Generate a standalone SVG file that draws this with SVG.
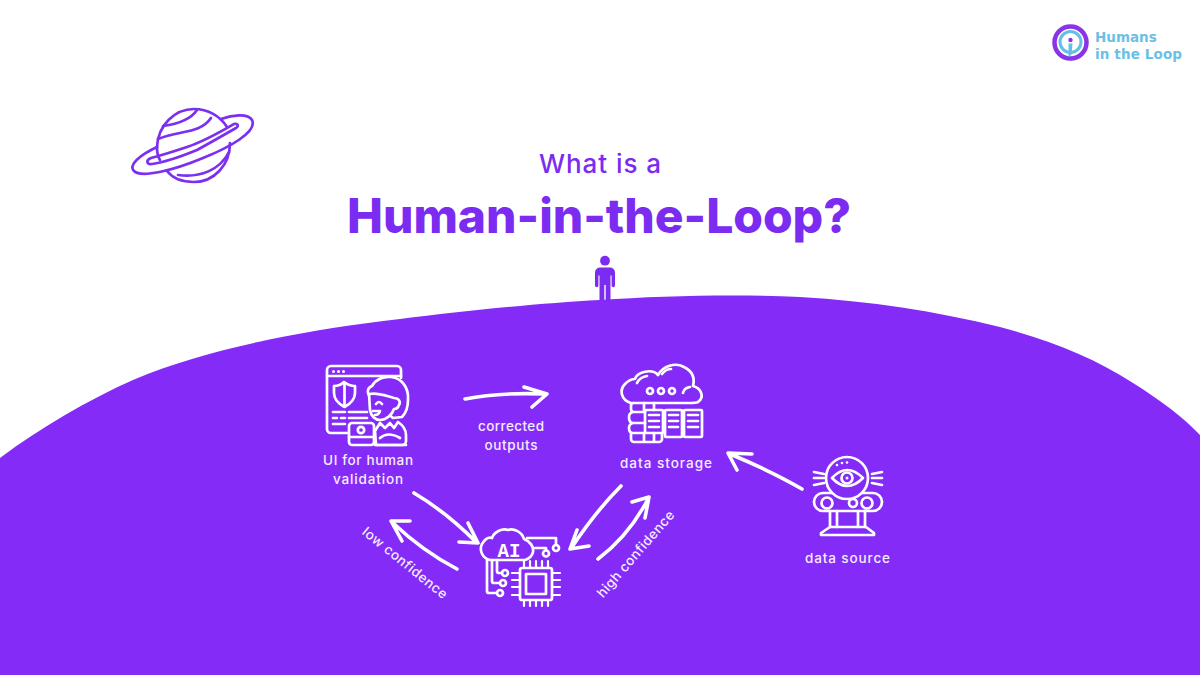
<svg xmlns="http://www.w3.org/2000/svg" width="1200" height="675" viewBox="0 0 1200 675">
<style>
.ic{fill:none;stroke:#fff;stroke-width:2.700;stroke-linecap:round;stroke-linejoin:round}
.ic .f{fill:#842bf8}
.ar{fill:none;stroke:#fff;stroke-width:3.600;stroke-linecap:round;stroke-linejoin:round}
.lb{font-family:Inter,"Open Sans",sans-serif;font-size:13.500px;font-weight:500;fill:#f6ecff;text-anchor:middle}
.pl{fill:none;stroke:#7b2ff0;stroke-width:2.700;stroke-linecap:round;stroke-linejoin:round}
</style>
<rect width="1200" height="675" fill="#fff"/>
<path id="hill" d="M0,458 C40,428 88,400 133,380 C175,362 220,350 267,340 C310,331 355,324 400,319 C465,311 540,303 600,300 C660,296 735,294 800,297 C870,301 935,311 1000,327 C1050,340 1095,358 1133,383 C1160,400 1182,416 1200,435 L1200,675 L0,675 Z" fill="#842bf8"/>

<g id="title" text-anchor="middle" fill="#7b2cf0">
<text x="600" y="173" font-family="Inter,sans-serif" font-size="26" font-weight="500" textLength="122" lengthAdjust="spacing">What is a</text>
<text x="599" y="233" font-family="Inter,sans-serif" font-size="48" font-weight="800" textLength="504" lengthAdjust="spacing">Human-in-the-Loop?</text>
</g>

<g id="logo">
<circle cx="1070.500" cy="42.500" r="16" fill="#fff" stroke="#8a34e8" stroke-width="4.500"/>
<circle cx="1070.500" cy="42" r="10.500" fill="#fff" stroke="#62bfe8" stroke-width="3"/>
<circle cx="1070.500" cy="40" r="2.200" fill="#8a34e8"/>
<path d="M1068.500,43.500 h4 l-1,11 l-3,3 Z" fill="#62bfe8"/>
<g font-family="'DejaVu Sans',sans-serif" font-size="13.500" font-weight="700" fill="#6cc0e6">
<text x="1095" y="42">Humans</text>
<text x="1095" y="59" textLength="87" lengthAdjust="spacing">in the Loop</text>
</g>
</g>

<g id="planet">
<path class="pl" d="M157,147 C158,125 175,109 194,109 C208,109 220,116 227,127"/>
<path class="pl" d="M167,171 C174,180 184,182 194,182 C214,182 230,165 230,143"/>
<path class="pl" d="M157,147 C157,152 158,157 160,160"/>
<path class="pl" d="M163,126 C178,124 191,119 197,110"/>
<path class="pl" d="M158,139 C180,130 200,134 211,118"/>
<path class="pl" d="M178,175 C200,178 220,170 229,152"/>
<path class="pl" d="M157,147 C140,155 128,165 134,171 C141,178 172,171 203,158 C228,148 258,132 252,120 C248,113 232,115 221,119"/>
<path class="pl" d="M187,147 C205,141 222,131 234,124 C238,123 239,126 236,128 C222,136 210,143 197,150 C180,157 166,162 152,164 C146,165 146,160 151,158 C163,155 175,151 187,147 Z"/>
</g>

<g id="person">
<circle cx="605" cy="260.700" r="4.900" fill="#7b2cf0"/>
<path d="M600,267.500 h10 a5,5 0 0 1 5,5 v13 a1.700,1.700 0 0 1 -3.400,0 v-10 h-1.100 V300 h-4.800 V285 h-1.400 V300 h-4.800 V275.500 H598.400 v10 a1.700,1.700 0 0 1 -3.400,0 V272.500 a5,5 0 0 1 5,-5 Z" fill="#7b2cf0"/>
</g>

<g id="connectors">
<path class="ar" d="M465,399 C490,394 520,393 545,394 M524,387 L547,394 L532,407"/>
<path class="ar" d="M414,493 C436,506 458,524 476,542 M468,523 L478,543 L459,542"/>
<path class="ar" d="M457,569 C432,556 411,540 393,523 M410,521 L391,521 L402,541"/>
<path class="ar" d="M621,486 C604,503 586,526 572,547 M577,530 L570,549 L589,546"/>
<path class="ar" d="M598,559 C618,544 636,522 648,499 M632,502 L649,497 L645,518"/>
<path class="ar" d="M802,489 C778,475 754,464 730,454 M752,454 L728,453 L737,470"/>
</g>

<g id="ui-node">
<g class="ic">
<path d="M347,433 H331 a4,4 0 0 1 -4,-4 V370 a4,4 0 0 1 4,-4 H397 a4,4 0 0 1 4,4 V378"/>
<path d="M327,376 H401"/>
<path d="M334,393 v-7 q6,0 10,-4 q5,4 11,4 v7 c0,7 -5,11 -10.500,14 c-5.500,-3 -10.500,-7 -10.500,-14 Z M344.500,383 V406"/>
<path d="M333,412 H345 M349,412 H367 M333,418 H337 M341,418 H345 M349,418 H367 M333,424 H345"/>
<path class="f" d="M372,398 C366,394 367,388 372,386 C376,379 384,376 391,377 C402,378 409,388 408,400 C408,408 406,413 402,417 L393,418 L372,400 Z"/>
<path class="f" d="M369,394 C378,392 386,396 394,398 C399,398 401,402 399,405 C398,408 396,409 394,409 C392,415 386,420 380,420 C375,420 371,416 370,410 Z"/>
<path d="M376,404 q3,-4 6,0 M373,411 h7 q-1,4 -5,4"/>
<path class="f" d="M375,431 L380,423 L385,428 L390,423 L394,428 L398,422 C404,426 406,430 406,435 V441 a4,4 0 0 1 -4,4 H376 Z"/>
<rect class="f" x="349" y="423" width="25" height="22" rx="3"/>
<circle cx="361" cy="430" r="3.200"/>
<path d="M349,437 H374 M380,438 q8,-7 20,0 M375,445 H406"/>
</g>
<circle cx="333.500" cy="371.500" r="1.500" fill="#fff"/><circle cx="338.500" cy="371.500" r="1.500" fill="#fff"/><circle cx="343.500" cy="371.500" r="1.500" fill="#fff"/>
<text class="lb" x="368" y="465" textLength="90" lengthAdjust="spacing">UI for human</text>
<text class="lb" x="368" y="484" textLength="70" lengthAdjust="spacing">validation</text>
</g>

<g id="corrected-outputs-label">
<text class="lb" x="511" y="431" textLength="66" lengthAdjust="spacing">corrected</text>
<text class="lb" x="511" y="450" textLength="53" lengthAdjust="spacing">outputs</text>
</g>

<g id="storage-node">
<g class="ic">
<path d="M631,403 C621,400 619,390 625,384 C629,380 632,379 635,379 C637,372 652,368 658,375 C663,366 675,362 684,367 C692,371 695,378 693,386 C701,388 705,397 698,402 C696,403 693,403 690,403 L634,403"/>
<path d="M637,383 q3,-6 10,-7 M662,374 q4,-5 9,-5 M683,393 q1,-5 7,-6"/>
<circle cx="650" cy="391" r="3"/><circle cx="661" cy="391" r="3"/><circle cx="672" cy="391" r="3"/>
<path d="M633,403 a3,3 0 0 0 -2,3 v3 a3,3 0 0 0 3,3 h11 M644,403 v9 M654,403 v7 M633,412 q-4,1 -4,5 q0,6 4,6 h12 M633,423 q-4,1 -4,5 q0,5 4,5 h11 M631,433 v6 a3,3 0 0 0 3,3 h25 a3,3 0 0 0 3,-3 v-6 M644,433 v9 M654,433 v9"/>
<rect x="645" y="410" width="18" height="23" rx="1"/>
<rect x="665" y="410" width="17" height="27" rx="1"/>
<rect x="684" y="410" width="18" height="27" rx="1"/>
<path d="M649,415 H659 M649,421 H659 M649,427 H659 M669,415 H678 M669,421 H678 M669,427 H678 M688,415 H698 M688,421 H698 M688,427 H698"/>
</g>
<text class="lb" x="666" y="468" textLength="92" lengthAdjust="spacing">data storage</text>
</g>

<g id="source-node">
<g class="ic">
<rect x="814" y="493" width="68" height="18" rx="9"/>
<circle class="f" cx="847" cy="478" r="21"/>
<path d="M832,478 q15,-16 31,0 q-16,16 -31,0 Z"/>
<circle cx="847" cy="478" r="5.500"/>
<path d="M814,472 L824,474 M814,478 H824 M814,485 L824,483 M872,474 L882,472 M872,478 H882 M872,483 L882,485"/>
<circle cx="827" cy="503" r="5.500"/><circle cx="853" cy="503" r="4"/><circle cx="867" cy="503" r="5.500"/>
<path d="M830,511 V527 M837,511 V527 M858,511 V527 M865,511 V527"/>
<path d="M830,527 H866 L874,533 V535 H821 V533 Z"/>
</g>
<circle cx="847" cy="478" r="1.500" fill="#fff"/>
<circle cx="837" cy="465" r="1.300" fill="#fff"/><circle cx="842" cy="463" r="1.300" fill="#fff"/><circle cx="847" cy="462.500" r="1.300" fill="#fff"/>
<text class="lb" x="847.500" y="563" textLength="85" lengthAdjust="spacing">data source</text>
</g>

<g id="ai-node">
<g class="ic">
<path d="M490,560 C482,558 479,550 482,544 C485,539 489,537 492,538 C494,532 502,528 508,530 C514,528 522,532 524,539 C530,541 534,547 533,552 C532,557 528,559 525,560 L490,560 Z"/>
<path d="M527,538 H556 V545 M535,548 H546 V550"/>
<circle cx="556" cy="548" r="3"/><circle cx="546" cy="553.500" r="3"/>
<path d="M497,560 V571 a2,2 0 0 0 2,2 H502 M492,560 V581 a2,2 0 0 0 2,2 H500 M487,560 V591 a2,2 0 0 0 2,2 H497"/>
<circle cx="505" cy="573" r="3"/><circle cx="503" cy="583" r="3"/><circle cx="500" cy="593" r="3"/>
<rect x="520" y="568" width="32" height="32" rx="2"/>
<rect x="526" y="574" width="20" height="20"/>
<path d="M524,561 V568 M530,561 V568 M536,561 V568 M542,561 V568 M548,561 V568 M524,600 V606 M530,600 V606 M536,600 V606 M542,600 V606 M548,600 V606 M512,573 H520 M512,580 H520 M512,587 H520 M512,595 H520 M552,573 H560 M552,580 H560 M552,587 H560 M552,595 H560" stroke-width="2.200"/>
</g>
<text x="509" y="556.500" font-family="'Liberation Mono',monospace" font-size="21" font-weight="700" fill="#fff" text-anchor="middle" textLength="23" lengthAdjust="spacingAndGlyphs">AI</text>
</g>

<text class="lb" id="low-confidence-label" transform="translate(402,566.500) rotate(39)" textLength="105" lengthAdjust="spacing">low confidence</text>
<text class="lb" id="high-confidence-label" transform="translate(639,557) rotate(-49)" textLength="110" lengthAdjust="spacing">high confidence</text>
</svg>
